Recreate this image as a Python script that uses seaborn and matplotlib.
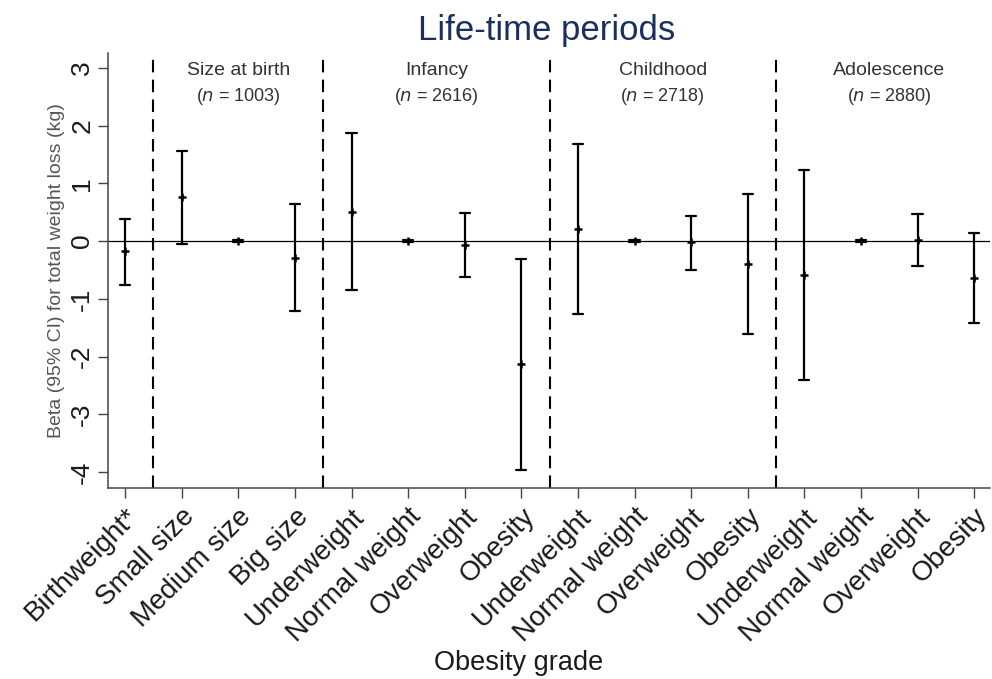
import numpy as np
import pandas as pd
import matplotlib
matplotlib.use("Agg")
import matplotlib.pyplot as plt
import seaborn as sns

categories = ["Birthweight*", "Small size", "Medium size", "Big size",
              "Underweight", "Normal weight", "Overweight", "Obesity",
              "Underweight", "Normal weight", "Overweight", "Obesity",
              "Underweight", "Normal weight", "Overweight", "Obesity"]
beta = [-0.17, 0.76, 0.00, -0.29,
        0.51, 0.00, -0.06, -2.13,
        0.21, 0.00, -0.02, -0.39,
        -0.58, 0.00, 0.02, -0.64]
ci_low = [-0.76, -0.05, -0.02, -1.21,
          -0.84, -0.02, -0.62, -3.97,
          -1.26, -0.02, -0.50, -1.61,
          -2.40, -0.02, -0.43, -1.42]
ci_high = [0.39, 1.57, 0.02, 0.64,
           1.87, 0.02, 0.49, -0.31,
           1.68, 0.02, 0.43, 0.82,
           1.23, 0.02, 0.47, 0.14]
group_names = ["Size at birth", "Infancy", "Childhood", "Adolescence"]
group_n = [1003, 2616, 2718, 2880]
group_sizes = [3, 4, 4, 4]   # after the first (Birthweight*) column
yticks = [-4, -3, -2, -1, 0, 1, 2, 3]

sns.set_style("white")
plt.rcParams['font.family'] = ['Liberation Sans', 'DejaVu Sans']

# long table: each category gets low / estimate / high; median = estimate,
# 100% percentile interval = CI
pos = [f"{i:02d}" for i in range(len(categories))]
rows = []
for p, lo, b, hi in zip(pos, ci_low, beta, ci_high):
    for v in (lo, b, hi):
        rows.append({"pos": p, "value": v})
df = pd.DataFrame(rows)

fig = plt.figure(figsize=(9.92, 6.79), dpi=100)
ax = fig.add_axes([0.109, 0.281, 0.889, 0.641])

sns.pointplot(data=df, x="pos", y="value", order=pos, estimator="median",
              errorbar=("pi", 100), color="black", linestyle="none",
              marker="+", markersize=6, markeredgewidth=1.8,
              capsize=0.18, err_kws={"linewidth": 1.6}, ax=ax)

ax.axhline(0, color="black", lw=0.9, zorder=0)
bounds = np.cumsum([1] + group_sizes)[:-1] - 0.5
for b in bounds:
    ax.axvline(b, color="black", lw=1.5, linestyle=(0, (6, 3.5)))

ax.set_xlim(-0.3, len(categories) - 0.72)
ax.set_ylim(-4.28, 3.26)
ax.set_yticks(yticks)
ax.set_yticklabels([str(t) for t in yticks], rotation=90, va="center")
ax.set_xticks(range(len(categories)))
ax.set_xticklabels(categories, rotation=45, ha="right", rotation_mode="anchor")
ax.tick_params(axis="x", labelsize=20, length=7, width=1, color="#444",
               direction="out", bottom=True, pad=4)
ax.tick_params(axis="y", labelsize=19, length=7, width=1, color="#444",
               direction="out", left=True, pad=3)
for lab in ax.get_xticklabels() + ax.get_yticklabels():
    lab.set_color("#1a1a1a")

sns.despine(ax=ax)
for s in ("left", "bottom"):
    ax.spines[s].set_color("#444")
    ax.spines[s].set_linewidth(1.1)

ax.set_xlabel("Obesity grade", fontsize=19.5, color="#1a1a1a", labelpad=6)
ax.xaxis.set_label_coords(0.465, -0.372)
ax.set_ylabel("Beta (95% CI) for total weight loss (kg)", fontsize=14,
              color="#555555", labelpad=4)

edges = np.concatenate([bounds, [len(categories) - 0.5]])
for name, n, a, b in zip(group_names, group_n, edges[:-1], edges[1:]):
    xc = (a + b) / 2
    ax.text(xc, 0.980, name, transform=ax.get_xaxis_transform(), ha="center",
            va="top", fontsize=14, color="#333333")
    ax.text(xc, 0.925, f"($n$ = {n})", transform=ax.get_xaxis_transform(),
            ha="center", va="top", fontsize=13, color="#333333")

fig.text(0.551, 0.955, "Life-time periods", ha="center", va="center",
         fontsize=25, color="#1B2F5E")

fig.savefig("out.png", dpi=100)
